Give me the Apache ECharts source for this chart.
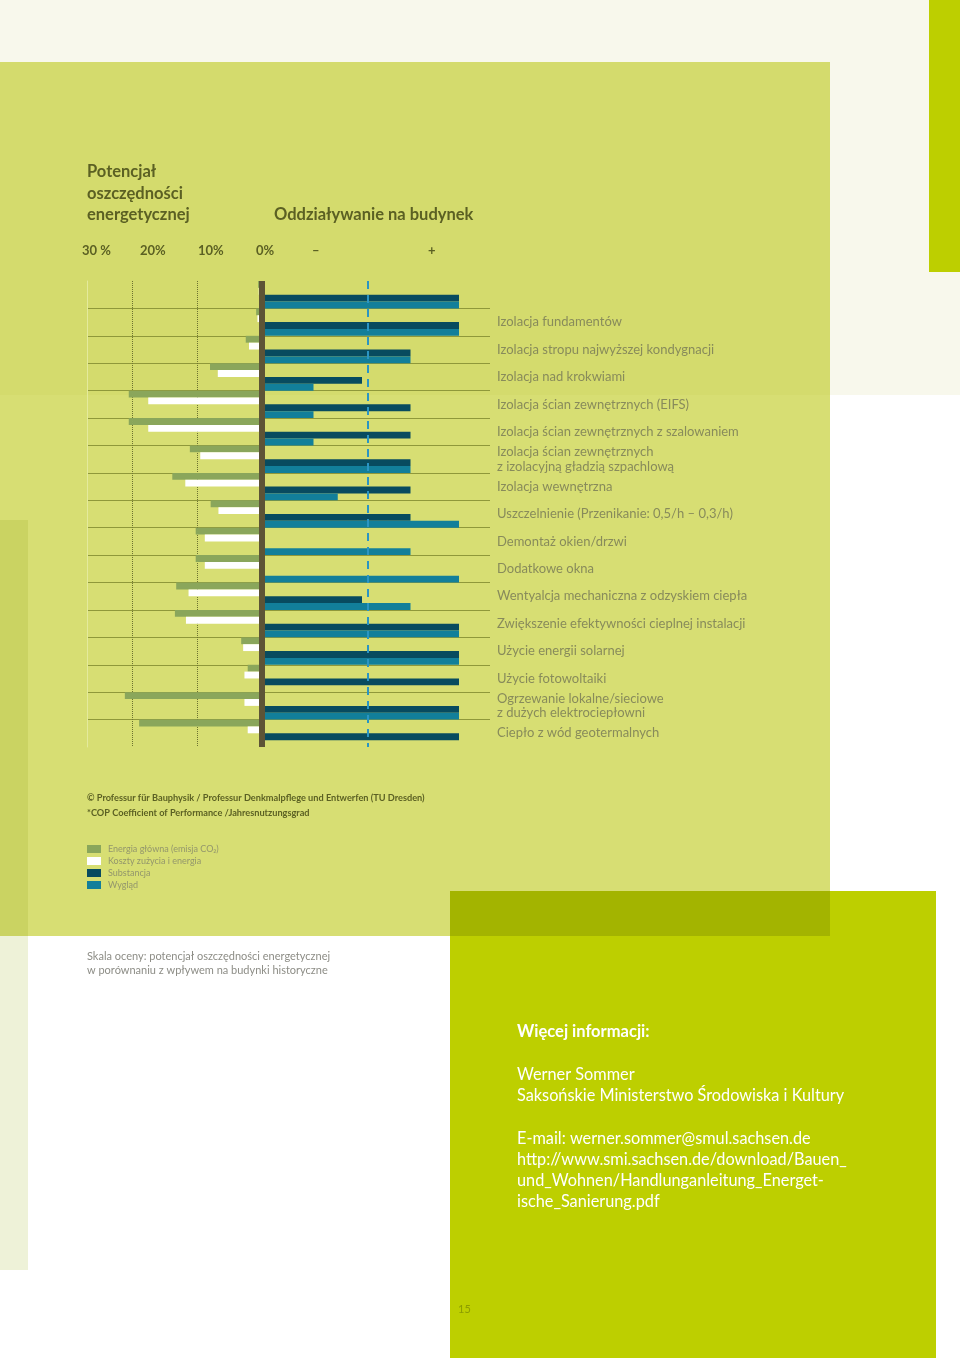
<!DOCTYPE html>
<html>
<head>
<meta charset="utf-8">
<script src="https://cdn.jsdelivr.net/npm/echarts@6/dist/echarts.min.js"></script>
<style>
  html, body { margin: 0; padding: 0; background: #ffffff; }
  #chart { width: 960px; height: 1358px; }
</style>
</head>
<body>
<div id="chart"></div>
<script>
// categories (first row has bars but no caption in the source)
const categories = [
  '',
  'Izolacja fundamentów',
  'Izolacja stropu najwyższej kondygnacji',
  'Izolacja nad krokwiami',
  'Izolacja ścian zewnętrznych (EIFS)',
  'Izolacja ścian zewnętrznych z szalowaniem',
  'Izolacja ścian zewnętrznych\nz izolacyjną gładzią szpachlową',
  'Izolacja wewnętrzna',
  'Uszczelnienie (Przenikanie: 0,5/h – 0,3/h)',
  'Demontaż okien/drzwi',
  'Dodatkowe okna',
  'Wentyalcja mechaniczna z odzyskiem ciepła',
  'Zwiększenie efektywności cieplnej instalacji',
  'Użycie energii solarnej',
  'Użycie fotowoltaiki',
  'Ogrzewanie lokalne/sieciowe\nz dużych elektrociepłowni',
  'Ciepło z wód geotermalnych'
];

// savings potential, %
const energiaGlowna = [0.6, 0.9, 2.5, 8.0, 20.5, 20.5, 11.1, 13.8, 7.9, 10.2, 10.2, 13.2, 13.4, 3.2, 2.2, 21.1, 18.9];
const kosztyZuzycia = [0.5, 0.7, 2.0, 6.8, 17.5, 17.5, 9.5, 11.8, 6.7, 8.8, 8.8, 11.3, 11.7, 2.9, 2.7, 2.7, 2.2];

// impact on the building (relative units, - ... +)
const substancja = [4, 4, 3, 2, 3, 3, 3, 3, 3, null, null, 2, 4, 4, 4, 4, 4];
const wyglad     = [4, 4, 3, 1, 1, 1, 3, 1.5, 4, 3, 4, 3, 4, 4, null, 4, null];
const impactMid = 2.12;

const seriesNames = ['Energia główna (emisja CO₂)', 'Koszty zużycia i energia', 'Substancja', 'Wygląd'];
const scaleLabels = ['30 %', '20%', '10%', '0%', '–', '+'];

const headerColor = '#5b6023';
const labelColor = '#888b5b';
const sepColor = '#8f983a';

const chart = echarts.init(document.getElementById('chart'));

const rect = (x, y, w, h, fill) => ({ type: 'rect', z: -100, silent: true, shape: { x, y, width: w, height: h }, style: { fill } });
const txt = (x, y, text, size, color, weight) => ({
  type: 'text', z: 100, silent: true, x, y,
  style: { text, fill: color, font: `${weight || 'normal'} ${size}px Lato`, textVerticalAlign: 'middle' }
});

const scaleX = [82, 140, 198, 256, 312, 428];

const bar = (name, data, color, xi, yi, extra) => Object.assign({
  name, type: 'bar', data, xAxisIndex: xi, yAxisIndex: yi,
  barGap: 0, barCategoryGap: 0, itemStyle: { color }, silent: true
}, extra || {});

const option = {
  animation: false,
  grid: [
    { left: 87, top: 281, width: 175, height: 466 },
    { left: 265, top: 281, width: 225, height: 466 }
  ],
  xAxis: [
    {
      gridIndex: 0, type: 'value', min: 0, max: 175 / 6.5, interval: 10, inverse: true,
      axisLine: { show: false }, axisTick: { show: false }, axisLabel: { show: false },
      splitLine: { show: true, showMinLine: false, showMaxLine: false, lineStyle: { color: '#6c7230', type: 'dotted', width: 1 } }
    },
    {
      gridIndex: 1, type: 'value', min: 0, max: 225 / 48.5,
      axisLine: { show: false }, axisTick: { show: false }, axisLabel: { show: false }, splitLine: { show: false }
    }
  ],
  yAxis: [
    {
      gridIndex: 0, type: 'category', data: categories, inverse: true, position: 'left',
      axisLine: { show: true, onZero: false, lineStyle: { color: '#e4ea9c', width: 1 } },
      axisTick: { show: false }, axisLabel: { show: false },
      splitLine: { show: true, showMinLine: false, showMaxLine: false, lineStyle: { color: sepColor, width: 1 } }
    },
    {
      gridIndex: 0, type: 'category', data: categories, inverse: true, position: 'right', z: 5,
      axisLine: { show: true, onZero: false, lineStyle: { color: '#5d5436', width: 6, cap: 'butt' } },
      axisTick: { show: false }, axisLabel: { show: false }, splitLine: { show: false }
    },
    {
      gridIndex: 1, type: 'category', data: categories, inverse: true, position: 'right',
      axisLine: { show: false }, axisTick: { show: false },
      axisLabel: { show: true, align: 'left', margin: 7, color: labelColor, fontSize: 13, fontFamily: 'Lato', lineHeight: 14.5 },
      splitLine: { show: true, showMinLine: false, showMaxLine: false, lineStyle: { color: sepColor, width: 1 } }
    }
  ],
  legend: {
    data: seriesNames, orient: 'vertical', left: 87, top: 843, itemWidth: 14, itemHeight: 8, itemGap: 0,
    icon: 'rect', selectedMode: false, padding: 0,
    textStyle: { fontSize: 9, color: '#93966c', fontFamily: 'Lato', lineHeight: 12, padding: [0, 0, 0, 2] }
  },
  series: [
    bar(seriesNames[0], energiaGlowna, '#8aa65b', 0, 0),
    bar(seriesNames[1], kosztyZuzycia, '#ffffff', 0, 0),
    bar('_l3', [], 'transparent', 0, 0),
    bar('_l4', [], 'transparent', 0, 0),
    bar('_r1', [], 'transparent', 1, 2),
    bar('_r2', [], 'transparent', 1, 2),
    bar(seriesNames[2], substancja, '#084b5f', 1, 2, {
      markLine: {
        silent: true, symbol: 'none', label: { show: false },
        lineStyle: { color: '#2a95c3', type: [8, 6], width: 2 },
        data: [{ xAxis: impactMid }]
      }
    }),
    bar(seriesNames[3], wyglad, '#127f9a', 1, 2)
  ],
  graphic: { elements: [
    // page backgrounds
    rect(0, 0, 960, 395, '#f8f8ec'),
    rect(929, 0, 31, 272, '#bdcf00'),
    rect(0, 936, 28, 334, '#eef2d8'),
    rect(0, 62, 830, 333, '#d4db6d'),
    rect(0, 395, 830, 541, '#d7de73'),
    rect(0, 520, 28, 416, '#cad362'),
    rect(450, 891, 486, 467, '#bdcf00'),
    rect(450, 891, 380, 45, '#a3b400'),
    // headers
    txt(87, 172, 'Potencjał', 16.5, headerColor, 'bold'),
    txt(87, 194, 'oszczędności', 16.5, headerColor, 'bold'),
    txt(87, 215, 'energetycznej', 16.5, headerColor, 'bold'),
    txt(274, 215, 'Oddziaływanie na budynek', 16.5, headerColor, 'bold'),
    ...scaleLabels.map((s, i) => txt(scaleX[i], 251, s, 13, headerColor, 'bold')),
    // footnotes
    txt(87, 798, '© Professur für Bauphysik / Professur Denkmalpflege und Entwerfen (TU Dresden)', 9.2, headerColor, 'bold'),
    txt(87, 813, '*COP Coefficient of Performance /Jahresnutzungsgrad', 9.2, headerColor, 'bold'),
    txt(87, 956, 'Skala oceny: potencjał oszczędności energetycznej', 11, '#8d8d86'),
    txt(87, 970, 'w porównaniu z wpływem na budynki historyczne', 11, '#8d8d86'),
    // contact box
    txt(517, 1032, 'Więcej informacji:', 16.5, '#ffffff', 'bold'),
    txt(517, 1075, 'Werner Sommer', 16.3, '#ffffff'),
    txt(517, 1096, 'Saksońskie Ministerstwo Środowiska i Kultury', 16.3, '#ffffff'),
    txt(517, 1139, 'E-mail: werner.sommer@smul.sachsen.de', 16.3, '#ffffff'),
    txt(517, 1160, 'http://www.smi.sachsen.de/download/Bauen_', 16.3, '#ffffff'),
    txt(517, 1181, 'und_Wohnen/Handlunganleitung_Energet-', 16.3, '#ffffff'),
    txt(517, 1202, 'ische_Sanierung.pdf', 16.3, '#ffffff'),
    txt(458, 1309, '15', 11, '#8c9d00')
  ] }
};

chart.setOption(option);
</script>
</body>
</html>
